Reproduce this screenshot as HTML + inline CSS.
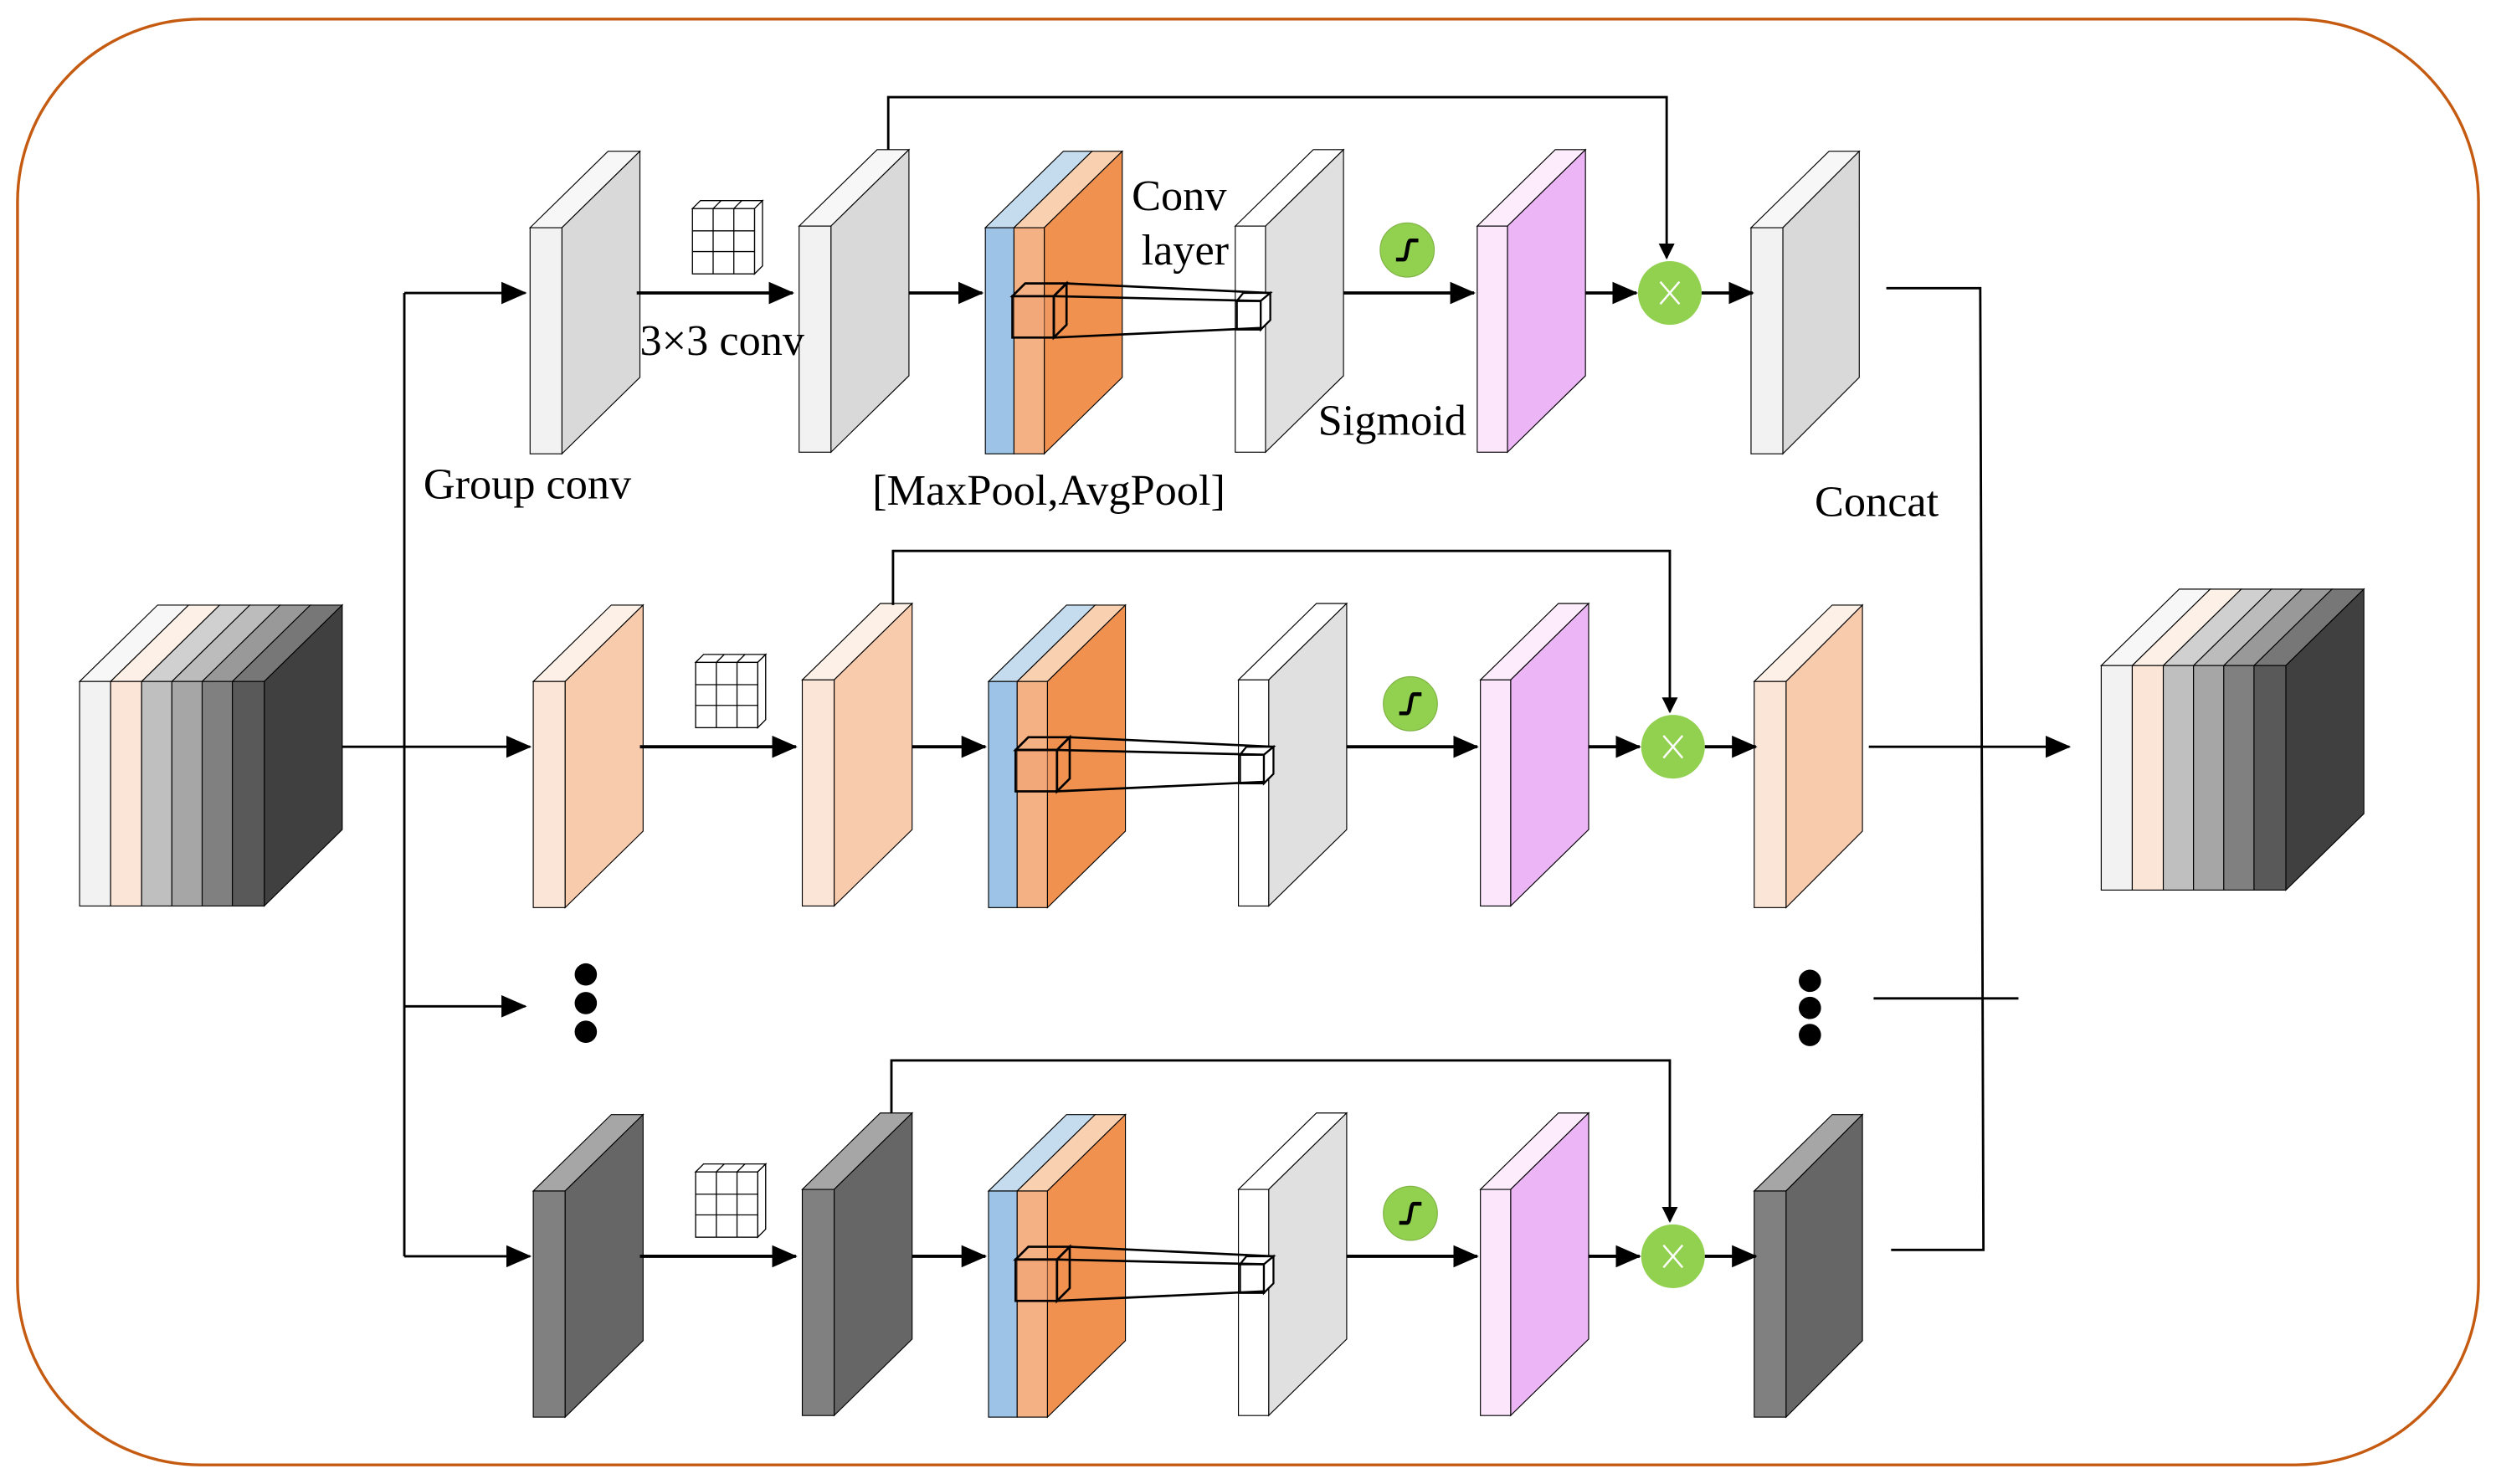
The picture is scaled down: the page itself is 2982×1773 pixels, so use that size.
<!DOCTYPE html>
<html><head><meta charset="utf-8"><style>
html,body{margin:0;padding:0;background:#fff;}
svg{display:block;}
text{font-family:"Liberation Serif",serif;fill:#000;}
</style></head><body>
<svg width="2982" height="1773" viewBox="0 0 1568 932" preserveAspectRatio="none" xmlns="http://www.w3.org/2000/svg">
<defs>
<marker id="ah" markerWidth="10" markerHeight="10" refX="9" refY="5" orient="auto" markerUnits="userSpaceOnUse" viewBox="0 0 10 10">
<path d="M0,0 L10,5 L0,10 z" fill="#000"/>
</marker>
<marker id="ah2" markerWidth="16" markerHeight="14" refX="15" refY="7" orient="auto" markerUnits="userSpaceOnUse" viewBox="0 0 16 14">
<path d="M0,0 L16,7 L0,14 z" fill="#000"/>
</marker>
<g id="grid">
<polygon points="0,5 5,0 44,0 39,5" fill="#fff" stroke="#000" stroke-width="0.7"/>
<polygon points="39,5 44,0 44,41 39,46" fill="#fff" stroke="#000" stroke-width="0.7"/>
<rect x="0" y="5" width="39" height="41" fill="#fff" stroke="#000" stroke-width="0.7"/>
<line x1="13" y1="5" x2="13" y2="46" stroke="#000" stroke-width="0.7"/>
<line x1="26" y1="5" x2="26" y2="46" stroke="#000" stroke-width="0.7"/>
<line x1="0" y1="19" x2="39" y2="19" stroke="#000" stroke-width="0.7"/>
<line x1="0" y1="32" x2="39" y2="32" stroke="#000" stroke-width="0.7"/>
<line x1="13" y1="5" x2="18" y2="0" stroke="#000" stroke-width="0.7"/>
<line x1="26" y1="5" x2="31" y2="0" stroke="#000" stroke-width="0.7"/>
</g>
<g id="sig">
<circle cx="0" cy="0" r="17" fill="#92d050" stroke="#7fb344" stroke-width="0.6"/>
<path d="M-7,6 L-2,6 C0,6 0,-6 2,-6 L7,-6" fill="none" stroke="#000" stroke-width="2.4"/>
</g>
<g id="mul">
<circle cx="0" cy="0" r="20" fill="#92d050"/>
<path d="M-6,-7 L6,7 M6,-7 L-6,7" stroke="#fff" stroke-width="1.3"/>
</g>
<g id="pool">
<polygon points="619,143 668,95 686,95 637,143" fill="#c5dcef" stroke="#000" stroke-width="0.6"/>
<polygon points="637,143 686,95 705,95 656,143" fill="#f9d0b0" stroke="#000" stroke-width="0.6"/>
<polygon points="656,143 705,95 705,237 656,285" fill="#f09150" stroke="#000" stroke-width="0.6"/>
<rect x="619" y="143" width="18" height="142" fill="#9dc3e6" stroke="#000" stroke-width="0.6"/>
<rect x="637" y="143" width="19" height="142" fill="#f4b183" stroke="#000" stroke-width="0.6"/>
</g>
<g id="cube">
<rect x="636" y="186" width="26" height="26" fill="#f0a070" fill-opacity="0.5" stroke="#000" stroke-width="1.4"/>
<polygon points="636,186 644,178 670,178 662,186" fill="none" stroke="#000" stroke-width="1.4"/>
<polygon points="662,186 670,178 670,204 662,212" fill="none" stroke="#000" stroke-width="1.4"/>
<line x1="670" y1="178" x2="798" y2="184" stroke="#000" stroke-width="1.4"/>
<line x1="662" y1="186" x2="792" y2="189" stroke="#000" stroke-width="1.4"/>
<line x1="662" y1="212" x2="792" y2="206" stroke="#000" stroke-width="1.4"/>
</g>
<g id="smallcube">
<rect x="777" y="189" width="15" height="18" fill="#fff" stroke="#000" stroke-width="1.2"/>
<polygon points="777,189 781,184 798,184 792,189" fill="#fff" stroke="#000" stroke-width="1.2"/>
<polygon points="792,189 798,184 798,201 792,207" fill="#fff" stroke="#000" stroke-width="1.2"/>
</g>
</defs>

<rect x="11" y="12" width="1546" height="908" rx="115" ry="115" fill="none" stroke="#c55a11" stroke-width="1.8"/>

<!-- ROW 1 -->
<g>
 <polygon points="333,143 382,95 402,95 353,143" fill="#f7f7f7" stroke="#000" stroke-width="0.6"/>
 <polygon points="353,143 402,95 402,237 353,285" fill="#d9d9d9" stroke="#000" stroke-width="0.6"/>
 <rect x="333" y="143" width="20" height="142" fill="#f2f2f2" stroke="#000" stroke-width="0.6"/>
 <polygon points="502,142 551,94 571,94 522,142" fill="#f7f7f7" stroke="#000" stroke-width="0.6"/>
 <polygon points="522,142 571,94 571,236 522,284" fill="#d9d9d9" stroke="#000" stroke-width="0.6"/>
 <rect x="502" y="142" width="20" height="142" fill="#f2f2f2" stroke="#000" stroke-width="0.6"/>
 <use href="#pool"/>
 <polygon points="776,142 825,94 844,94 795,142" fill="#fff" stroke="#000" stroke-width="0.6"/>
 <polygon points="795,142 844,94 844,236 795,284" fill="#e0e0e0" stroke="#000" stroke-width="0.6"/>
 <rect x="776" y="142" width="19" height="142" fill="#fff" stroke="#000" stroke-width="0.6"/>
 <use href="#smallcube"/>
 <use href="#cube"/>
 <polygon points="928,142 977,94 996,94 947,142" fill="#fcecfc" stroke="#000" stroke-width="0.6"/>
 <polygon points="947,142 996,94 996,236 947,284" fill="#ecb5f5" stroke="#000" stroke-width="0.6"/>
 <rect x="928" y="142" width="19" height="142" fill="#fbe6fb" stroke="#000" stroke-width="0.6"/>
 <polygon points="1100,143 1149,95 1168,95 1120,143" fill="#f7f7f7" stroke="#000" stroke-width="0.6"/>
 <polygon points="1120,143 1168,95 1168,237 1120,285" fill="#d9d9d9" stroke="#000" stroke-width="0.6"/>
 <rect x="1100" y="143" width="20" height="142" fill="#f2f2f2" stroke="#000" stroke-width="0.6"/>
 <use href="#grid" x="435" y="126"/>
 <use href="#sig" x="884" y="157"/>
 <use href="#mul" x="1049" y="184"/>
 <g stroke="#000" stroke-width="2" fill="none">
  <line x1="400" y1="184" x2="498" y2="184" marker-end="url(#ah2)"/>
  <line x1="571" y1="184" x2="617" y2="184" marker-end="url(#ah2)"/>
  <line x1="844" y1="184" x2="926" y2="184" marker-end="url(#ah2)"/>
  <line x1="996" y1="184" x2="1028" y2="184" marker-end="url(#ah2)"/>
  <line x1="1069" y1="184" x2="1101" y2="184" marker-end="url(#ah2)"/>
 </g>
 <polyline points="558,94 558,61 1047,61 1047,162" fill="none" stroke="#000" stroke-width="1.5" marker-end="url(#ah)"/>
</g>

<!-- ROW 2 -->
<g transform="translate(2,285)">
 <polygon points="333,143 382,95 402,95 353,143" fill="#fdf0e6" stroke="#000" stroke-width="0.6"/>
 <polygon points="353,143 402,95 402,237 353,285" fill="#f8cbad" stroke="#000" stroke-width="0.6"/>
 <rect x="333" y="143" width="20" height="142" fill="#fbe5d6" stroke="#000" stroke-width="0.6"/>
 <polygon points="502,142 551,94 571,94 522,142" fill="#fdf0e6" stroke="#000" stroke-width="0.6"/>
 <polygon points="522,142 571,94 571,236 522,284" fill="#f8cbad" stroke="#000" stroke-width="0.6"/>
 <rect x="502" y="142" width="20" height="142" fill="#fbe5d6" stroke="#000" stroke-width="0.6"/>
 <use href="#pool"/>
 <polygon points="776,142 825,94 844,94 795,142" fill="#fff" stroke="#000" stroke-width="0.6"/>
 <polygon points="795,142 844,94 844,236 795,284" fill="#e0e0e0" stroke="#000" stroke-width="0.6"/>
 <rect x="776" y="142" width="19" height="142" fill="#fff" stroke="#000" stroke-width="0.6"/>
 <use href="#smallcube"/>
 <use href="#cube"/>
 <polygon points="928,142 977,94 996,94 947,142" fill="#fcecfc" stroke="#000" stroke-width="0.6"/>
 <polygon points="947,142 996,94 996,236 947,284" fill="#ecb5f5" stroke="#000" stroke-width="0.6"/>
 <rect x="928" y="142" width="19" height="142" fill="#fbe6fb" stroke="#000" stroke-width="0.6"/>
 <polygon points="1100,143 1149,95 1168,95 1120,143" fill="#fdf0e6" stroke="#000" stroke-width="0.6"/>
 <polygon points="1120,143 1168,95 1168,237 1120,285" fill="#f8cbad" stroke="#000" stroke-width="0.6"/>
 <rect x="1100" y="143" width="20" height="142" fill="#fbe5d6" stroke="#000" stroke-width="0.6"/>
 <use href="#grid" x="435" y="126"/>
 <use href="#sig" x="884" y="157"/>
 <use href="#mul" x="1049" y="184"/>
 <g stroke="#000" stroke-width="2" fill="none">
  <line x1="400" y1="184" x2="498" y2="184" marker-end="url(#ah2)"/>
  <line x1="571" y1="184" x2="617" y2="184" marker-end="url(#ah2)"/>
  <line x1="844" y1="184" x2="926" y2="184" marker-end="url(#ah2)"/>
  <line x1="996" y1="184" x2="1028" y2="184" marker-end="url(#ah2)"/>
  <line x1="1069" y1="184" x2="1101" y2="184" marker-end="url(#ah2)"/>
 </g>
 <polyline points="559,95 559,61 1047,61 1047,162" fill="none" stroke="#000" stroke-width="1.5" marker-end="url(#ah)"/>
</g>

<!-- ROW 3 -->
<g transform="translate(2,605)">
 <polygon points="333,143 382,95 402,95 353,143" fill="#a6a6a6" stroke="#000" stroke-width="0.6"/>
 <polygon points="353,143 402,95 402,237 353,285" fill="#666666" stroke="#000" stroke-width="0.6"/>
 <rect x="333" y="143" width="20" height="142" fill="#808080" stroke="#000" stroke-width="0.6"/>
 <polygon points="502,142 551,94 571,94 522,142" fill="#a6a6a6" stroke="#000" stroke-width="0.6"/>
 <polygon points="522,142 571,94 571,236 522,284" fill="#666666" stroke="#000" stroke-width="0.6"/>
 <rect x="502" y="142" width="20" height="142" fill="#808080" stroke="#000" stroke-width="0.6"/>
 <use href="#pool"/>
 <polygon points="776,142 825,94 844,94 795,142" fill="#fff" stroke="#000" stroke-width="0.6"/>
 <polygon points="795,142 844,94 844,236 795,284" fill="#e0e0e0" stroke="#000" stroke-width="0.6"/>
 <rect x="776" y="142" width="19" height="142" fill="#fff" stroke="#000" stroke-width="0.6"/>
 <use href="#smallcube"/>
 <use href="#cube"/>
 <polygon points="928,142 977,94 996,94 947,142" fill="#fcecfc" stroke="#000" stroke-width="0.6"/>
 <polygon points="947,142 996,94 996,236 947,284" fill="#ecb5f5" stroke="#000" stroke-width="0.6"/>
 <rect x="928" y="142" width="19" height="142" fill="#fbe6fb" stroke="#000" stroke-width="0.6"/>
 <polygon points="1100,143 1149,95 1168,95 1120,143" fill="#a6a6a6" stroke="#000" stroke-width="0.6"/>
 <polygon points="1120,143 1168,95 1168,237 1120,285" fill="#666666" stroke="#000" stroke-width="0.6"/>
 <rect x="1100" y="143" width="20" height="142" fill="#808080" stroke="#000" stroke-width="0.6"/>
 <use href="#grid" x="435" y="126"/>
 <use href="#sig" x="884" y="157"/>
 <use href="#mul" x="1049" y="184"/>
 <g stroke="#000" stroke-width="2" fill="none">
  <line x1="400" y1="184" x2="498" y2="184" marker-end="url(#ah2)"/>
  <line x1="571" y1="184" x2="617" y2="184" marker-end="url(#ah2)"/>
  <line x1="844" y1="184" x2="926" y2="184" marker-end="url(#ah2)"/>
  <line x1="996" y1="184" x2="1028" y2="184" marker-end="url(#ah2)"/>
  <line x1="1069" y1="184" x2="1101" y2="184" marker-end="url(#ah2)"/>
 </g>
 <polyline points="558,94 558,61 1047,61 1047,162" fill="none" stroke="#000" stroke-width="1.5" marker-end="url(#ah)"/>
</g>

<g stroke="#000" stroke-width="1.5" fill="none">
 <line x1="215" y1="469" x2="254" y2="469"/>
 <line x1="254" y1="184" x2="254" y2="789"/>
 <line x1="254" y1="184" x2="330" y2="184" marker-end="url(#ah2)"/>
 <line x1="254" y1="469" x2="333" y2="469" marker-end="url(#ah2)"/>
 <line x1="254" y1="632" x2="330" y2="632" marker-end="url(#ah2)"/>
 <line x1="254" y1="789" x2="333" y2="789" marker-end="url(#ah2)"/>
</g>
<g stroke="#000" stroke-width="1.5" fill="none">
 <polyline points="1185,181 1244,181 1246,785 1188,785"/>
 <line x1="1177" y1="627" x2="1268" y2="627"/>
 <line x1="1174" y1="469" x2="1300" y2="469" marker-end="url(#ah2)"/>
</g>
<g fill="#000">
 <circle cx="368" cy="612" r="7"/><circle cx="368" cy="630" r="7"/><circle cx="368" cy="648" r="7"/>
 <circle cx="1137" cy="616" r="7"/><circle cx="1137" cy="633" r="7"/><circle cx="1137" cy="650" r="7"/>
</g>

<g stroke="#000" stroke-width="0.6">
 <polygon points="50,428 99,380 118.5,380 69.5,428" fill="#f7f7f7"/>
 <polygon points="69.5,428 118.5,380 138,380 89,428" fill="#fdf0e6"/>
 <polygon points="89,428 138,380 157,380 108,428" fill="#d0d0d0"/>
 <polygon points="108,428 157,380 176,380 127,428" fill="#bcbcbc"/>
 <polygon points="127,428 176,380 195,380 146,428" fill="#999"/>
 <polygon points="146,428 195,380 215,380 166,428" fill="#777"/>
 <polygon points="166,428 215,380 215,521 166,569" fill="#404040"/>
 <rect x="50" y="428" width="19.5" height="141" fill="#f2f2f2"/>
 <rect x="69.5" y="428" width="19.5" height="141" fill="#fbe5d6"/>
 <rect x="89" y="428" width="19" height="141" fill="#bfbfbf"/>
 <rect x="108" y="428" width="19" height="141" fill="#a6a6a6"/>
 <rect x="127" y="428" width="19" height="141" fill="#808080"/>
 <rect x="146" y="428" width="20" height="141" fill="#595959"/>
</g>
<g stroke="#000" stroke-width="0.6">
 <polygon points="1320,418 1369,370 1388.5,370 1339.5,418" fill="#f7f7f7"/>
 <polygon points="1339.5,418 1388.5,370 1408,370 1359,418" fill="#fdf0e6"/>
 <polygon points="1359,418 1408,370 1427,370 1378,418" fill="#d0d0d0"/>
 <polygon points="1378,418 1427,370 1446,370 1397,418" fill="#bcbcbc"/>
 <polygon points="1397,418 1446,370 1465,370 1416,418" fill="#999"/>
 <polygon points="1416,418 1465,370 1485,370 1436,418" fill="#777"/>
 <polygon points="1436,418 1485,370 1485,511 1436,559" fill="#404040"/>
 <rect x="1320" y="418" width="19.5" height="141" fill="#f2f2f2"/>
 <rect x="1339.5" y="418" width="19.5" height="141" fill="#fbe5d6"/>
 <rect x="1359" y="418" width="19" height="141" fill="#bfbfbf"/>
 <rect x="1378" y="418" width="19" height="141" fill="#a6a6a6"/>
 <rect x="1397" y="418" width="19" height="141" fill="#808080"/>
 <rect x="1416" y="418" width="20" height="141" fill="#595959"/>
</g>

<g font-size="27.5">
 <text x="266" y="313">Group conv</text>
 <text x="402" y="223">3×3 conv</text>
 <text x="548" y="317">[MaxPool,AvgPool]</text>
 <text x="711" y="132">Conv</text>
 <text x="717" y="166">layer</text>
 <text x="828" y="273">Sigmoid</text>
 <text x="1140" y="324">Concat</text>
</g>
</svg>
</body></html>
